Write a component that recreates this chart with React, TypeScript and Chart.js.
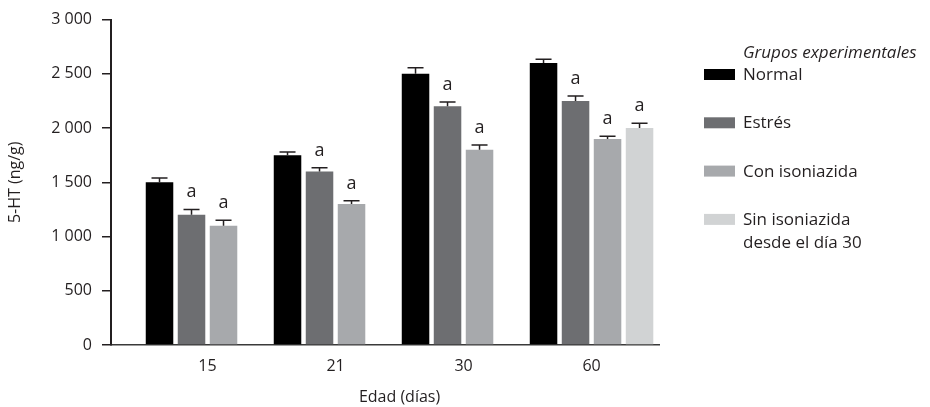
import React, { useEffect, useRef } from 'react';
import { Chart, registerables } from 'chart.js';

Chart.register(...registerables);

// ---- data ----
const categories = ['15', '21', '30', '60'];
const seriesNames = ['Normal', 'Estrés', 'Con isoniazida', 'Sin isoniazida'];
const seriesNamesLine2 = ['', '', '', 'desde el día 30'];
const normal = [1500, 1750, 2500, 2600];
const estres = [1200, 1600, 2200, 2250];
const conIso = [1100, 1300, 1800, 1900];
const sinIso: (number | null)[] = [null, null, null, 2000];
const normalErr = [40, 30, 55, 35];
const estresErr = [50, 35, 40, 45];
const conIsoErr = [50, 30, 45, 25];
const sinIsoErr: (number | null)[] = [null, null, null, 45];
const normalSig = ['', '', '', ''];
const estresSig = ['a', 'a', 'a', 'a'];
const conIsoSig = ['a', 'a', 'a', 'a'];
const sinIsoSig = ['', '', '', 'a'];
const yTicks = [0, 500, 1000, 1500, 2000, 2500, 3000];
const yTitle = '5-HT (ng/g)';
const xTitle = 'Edad (días)';
const legendTitle = 'Grupos experimentales';

const colors = ['#000000', '#6d6e71', '#a7a9ac', '#d1d3d4'];
const TEXT = '#231f20';
const FONT = "'Open Sans', 'Noto Sans', sans-serif";

const values = [normal, estres, conIso, sinIso];
const errs = [normalErr, estresErr, conIsoErr, sinIsoErr];
const sigs = [normalSig, estresSig, conIsoSig, sinIsoSig];

function fmt(v: number): string {
  if (v >= 1000) {
    return `${Math.floor(v / 1000)} ${String(v % 1000).padStart(3, '0')}`;
  }
  return String(v);
}

const errorBarPlugin = {
  id: 'errorBars',
  afterDatasetsDraw(chart: any) {
    const ctx = chart.ctx;
    const yScale = chart.scales.y;
    ctx.save();
    chart.data.datasets.forEach((ds: any, di: number) => {
      const meta = chart.getDatasetMeta(di);
      meta.data.forEach((bar: any, k: number) => {
        const raw = ds.data[k];
        if (!raw || raw.y == null) return;
        const top = yScale.getPixelForValue(raw.y + (raw.err || 0));
        ctx.strokeStyle = TEXT;
        ctx.lineWidth = 1.5;
        ctx.beginPath();
        ctx.moveTo(bar.x, bar.y);
        ctx.lineTo(bar.x, top);
        ctx.moveTo(bar.x - 8, top);
        ctx.lineTo(bar.x + 8, top);
        ctx.stroke();
        if (raw.sig) {
          ctx.fillStyle = TEXT;
          ctx.font = `18px ${FONT}`;
          ctx.textAlign = 'center';
          ctx.textBaseline = 'alphabetic';
          ctx.fillText(raw.sig, bar.x, top - 12);
        }
      });
    });
    ctx.restore();
  },
};

const extrasPlugin = {
  id: 'extras',
  afterDraw(chart: any) {
    const ctx = chart.ctx;
    const { chartArea } = chart;
    const xScale = chart.scales.x;
    ctx.save();
    // x axis title, centred on the category span
    ctx.fillStyle = TEXT;
    ctx.font = `16px ${FONT}`;
    ctx.textAlign = 'center';
    ctx.textBaseline = 'alphabetic';
    const cx = xScale.getPixelForValue((categories.length - 1) / 2);
    ctx.fillText(xTitle, cx, chartArea.bottom + 57);

    // legend
    const boxX = chartArea.right + 45;
    const textX = boxX + 39;
    ctx.textAlign = 'left';
    ctx.font = `italic 17px ${FONT}`;
    ctx.fillText(legendTitle, textX, 58);
    ctx.font = `17px ${FONT}`;
    seriesNames.forEach((name, i) => {
      const base = 80 + i * 48.3;
      ctx.fillStyle = colors[i];
      ctx.fillRect(boxX, base - 11, 31, 11);
      ctx.fillStyle = TEXT;
      ctx.fillText(name, textX, base);
      if (seriesNamesLine2[i]) ctx.fillText(seriesNamesLine2[i], textX, base + 23.5);
    });
    ctx.restore();
  },
};

export default function App() {
  const ref = useRef<HTMLCanvasElement | null>(null);
  useEffect(() => {
    if (!ref.current) return;
    const datasets = seriesNames.map((name, i) => ({
      label: name,
      backgroundColor: colors[i],
      borderWidth: 0,
      barPercentage: 0.86,
      categoryPercentage: 1,
      data: categories
        .map((_, j) => ({ x: j, y: values[i][j], err: errs[i][j], sig: sigs[i][j] }))
        .filter((p) => p.y != null),
    }));
    const chart = new Chart(ref.current, {
      type: 'bar',
      data: { datasets } as any,
      plugins: [errorBarPlugin, extrasPlugin],
      options: {
        animation: false,
        responsive: false,
        devicePixelRatio: 1,
        layout: { padding: { left: 0, right: 271, top: 15, bottom: 0 } },
        plugins: { legend: { display: false }, tooltip: { enabled: false } },
        font: { family: FONT },
        scales: {
          x: {
            type: 'linear',
            min: -0.754,
            max: 3.527,
            offset: false,
            grid: { display: false, drawTicks: false },
            border: { display: true, color: '#3a3a3a', width: 1.5 },
            afterBuildTicks: (scale: any) => {
              scale.ticks = categories.map((_, i) => ({ value: i }));
            },
            afterFit: (scale: any) => {
              scale.height = 62;
            },
            ticks: {
              autoSkip: false,
              maxRotation: 0,
              padding: 12,
              color: TEXT,
              font: { family: FONT, size: 16 },
              callback: (v: any) => categories[v] ?? '',
            },
          },
          y: {
            min: 0,
            max: 3000,
            grid: { display: true, drawOnChartArea: false, drawTicks: true, tickLength: 9, color: TEXT, lineWidth: 1.5 },
            border: { display: true, color: TEXT, width: 2 },
            afterBuildTicks: (scale: any) => {
              scale.ticks = yTicks.map((v) => ({ value: v }));
            },
            afterFit: (scale: any) => {
              scale.width = 111;
            },
            ticks: {
              padding: 10,
              color: TEXT,
              font: { family: FONT, size: 16 },
              callback: (v: any) => fmt(Number(v)),
            },
            title: {
              display: true,
              text: yTitle,
              color: TEXT,
              font: { family: FONT, size: 16 },
              padding: { top: 6, bottom: 0 },
            },
          },
        },
      } as any,
    });
    return () => chart.destroy();
  }, []);
  return (
    <div style={{ position: 'fixed', left: 0, top: 0, width: 930, height: 407, background: '#fff' }}>
      <canvas ref={ref} width={930} height={407} style={{ width: 930, height: 407, display: 'block' }} />
    </div>
  );
}
